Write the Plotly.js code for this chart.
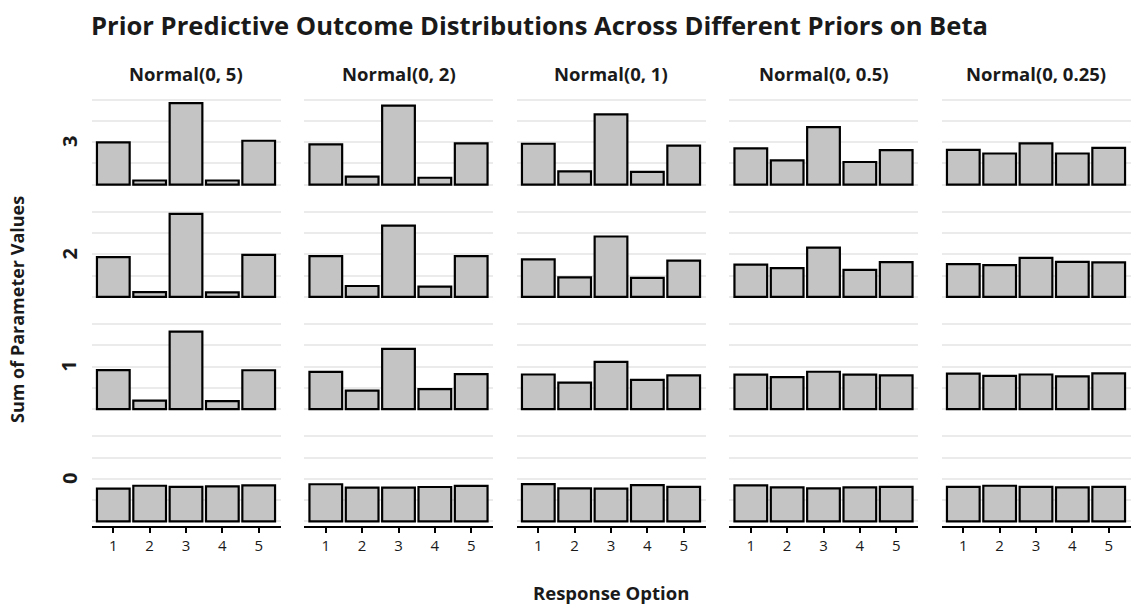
<!DOCTYPE html>
<html>
<head>
<meta charset="utf-8">
<script src="https://cdn.plot.ly/plotly-3.0.1.min.js"></script>
<style>html,body{margin:0;padding:0;background:#fff;}#chart{width:1131px;height:607px;}</style>
</head>
<body>
<div id="chart"></div>
<script>
// ---- data ----
const priors = ["Normal(0, 5)", "Normal(0, 2)", "Normal(0, 1)", "Normal(0, 0.5)", "Normal(0, 0.25)"];
const options = [1, 2, 3, 4, 5];
const sumLabels = ["3", "2", "1", "0"]; // rows top to bottom

// values per prior (columns), each giving 5 response options
const sum3 = [
  [0.198, 0.019, 0.383, 0.019, 0.206],
  [0.189, 0.037, 0.371, 0.032, 0.194],
  [0.192, 0.062, 0.330, 0.060, 0.183],
  [0.170, 0.114, 0.270, 0.106, 0.162],
  [0.163, 0.146, 0.194, 0.146, 0.173]
];
const sum2 = [
  [0.187, 0.022, 0.390, 0.021, 0.197],
  [0.192, 0.051, 0.335, 0.048, 0.192],
  [0.176, 0.092, 0.284, 0.089, 0.170],
  [0.152, 0.135, 0.232, 0.127, 0.163],
  [0.154, 0.149, 0.183, 0.165, 0.162]
];
const sum1 = [
  [0.184, 0.040, 0.365, 0.038, 0.183],
  [0.175, 0.087, 0.284, 0.094, 0.165],
  [0.163, 0.125, 0.222, 0.138, 0.159],
  [0.162, 0.151, 0.176, 0.162, 0.159],
  [0.167, 0.157, 0.163, 0.154, 0.168]
];
const sum0 = [
  [0.154, 0.168, 0.163, 0.165, 0.170],
  [0.175, 0.159, 0.159, 0.162, 0.167],
  [0.176, 0.156, 0.154, 0.171, 0.163],
  [0.170, 0.160, 0.156, 0.160, 0.163],
  [0.163, 0.168, 0.163, 0.160, 0.163]
];
const rowsData = [sum3, sum2, sum1, sum0];
const gridVals = [0, 0.1, 0.2, 0.3, 0.4];

// ---- layout helpers ----
const W = 1131, H = 607;
const fx = p => p / W;
const fy = p => (H - p) / H;
const colLeft = c => 91.5 + c * 212.5;
const colW = 189;
const rowBottom = r => 525.6 - (3 - r) * 112.3;
const rowH = 91.2;

const FONT = "'Open Sans', Lato, sans-serif";
const traces = [];
const layout = {
  width: W, height: H,
  margin: {l: 0, r: 0, t: 0, b: 0},
  paper_bgcolor: "#ffffff",
  plot_bgcolor: "rgba(0,0,0,0)",
  showlegend: false,
  font: {family: FONT, color: "#1a1a1a"},
  title: {
    text: "<b>Prior Predictive Outcome Distributions Across Different Priors on Beta</b>",
    x: fx(91), xanchor: "left", xref: "paper",
    y: fy(26), yanchor: "middle", yref: "paper",
    font: {family: FONT, size: 25.6, color: "#1a1a1a"}
  },
  annotations: []
};

for (let r = 0; r < 4; r++) {
  for (let c = 0; c < 5; c++) {
    const n = r * 5 + c + 1;
    const xa = "x" + (n === 1 ? "" : n);
    const ya = "y" + (n === 1 ? "" : n);
    traces.push({
      type: "bar",
      x: options,
      y: rowsData[r][c],
      xaxis: xa, yaxis: ya,
      width: 0.9,
      marker: {color: "#c4c4c4", line: {color: "#000000", width: 2.2}},
      hoverinfo: "x+y"
    });
    const isBottom = r === 3;
    layout["xaxis" + (n === 1 ? "" : n)] = {
      domain: [fx(colLeft(c)), fx(colLeft(c) + colW)],
      anchor: ya,
      range: [0.4, 5.6],
      tickvals: options,
      ticktext: options.map(String),
      showgrid: false,
      zeroline: false,
      showline: isBottom,
      linecolor: "#000", linewidth: 2,
      ticks: isBottom ? "outside" : "",
      ticklen: 5, tickwidth: 2, tickcolor: "#000",
      showticklabels: isBottom,
      tickfont: {family: FONT, size: 15, color: "#1a1a1a"},
      fixedrange: true
    };
    layout["yaxis" + (n === 1 ? "" : n)] = {
      domain: [fy(rowBottom(r)), fy(rowBottom(r) - rowH)],
      anchor: xa,
      range: [-0.0195, 0.4095],
      tickvals: gridVals,
      showticklabels: false,
      ticks: "",
      showgrid: true,
      gridcolor: "#ebebeb", gridwidth: 2,
      zeroline: false,
      showline: false,
      fixedrange: true
    };
  }
}

// column strip labels
priors.forEach((p, c) => {
  layout.annotations.push({
    text: "<b>" + p + "</b>", xref: "paper", yref: "paper",
    x: fx(colLeft(c) + colW / 2), y: fy(73), xanchor: "center", yanchor: "middle",
    showarrow: false, font: {family: FONT, size: 18.5, color: "#1a1a1a"}
  });
});
// row labels
sumLabels.forEach((s, r) => {
  layout.annotations.push({
    text: "<b>" + s + "</b>", xref: "paper", yref: "paper",
    x: fx(69), y: fy(rowBottom(r) - rowH / 2 - 1), xanchor: "center", yanchor: "middle",
    textangle: -90, showarrow: false, font: {family: FONT, size: 20, color: "#1a1a1a"}
  });
});
// axis titles
layout.annotations.push({
  text: "<b>Sum of Parameter Values</b>", xref: "paper", yref: "paper",
  x: fx(17), y: fy(310), xanchor: "center", yanchor: "middle",
  textangle: -90, showarrow: false, font: {family: FONT, size: 18, color: "#1a1a1a"}
});
layout.annotations.push({
  text: "<b>Response Option</b>", xref: "paper", yref: "paper",
  x: fx(611), y: fy(592), xanchor: "center", yanchor: "middle",
  showarrow: false, font: {family: FONT, size: 18.5, color: "#1a1a1a"}
});

Plotly.newPlot("chart", traces, layout, {displayModeBar: false, staticPlot: true});
</script>
</body>
</html>
